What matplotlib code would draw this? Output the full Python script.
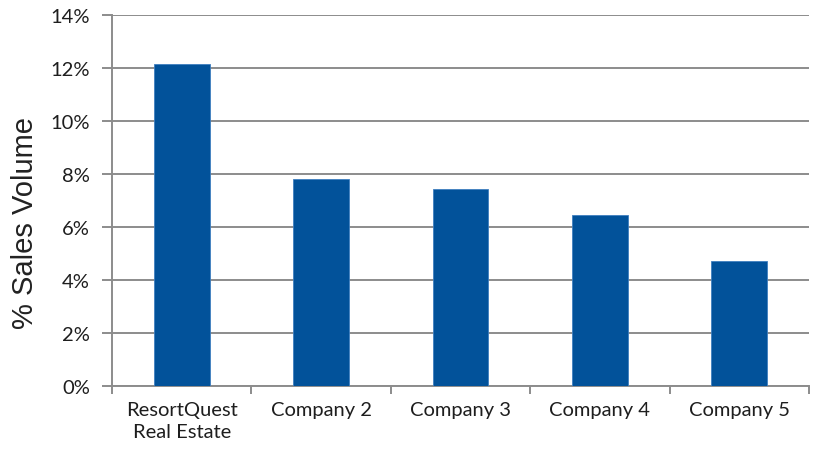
import matplotlib
matplotlib.use("Agg")
import matplotlib.pyplot as plt
from matplotlib.ticker import FixedLocator, PercentFormatter

categories = ["ResortQuest\nReal Estate", "Company 2", "Company 3", "Company 4", "Company 5"]
values = [12.15, 7.82, 7.45, 6.45, 4.72]
yticks = [0, 2, 4, 6, 8, 10, 12, 14]

fig = plt.figure(figsize=(8.13, 4.52), dpi=100)
ax = fig.add_axes([0.1378, 0.1438, 0.8573, 0.8208])

x = list(range(len(categories)))
ax.bar(x, values, width=0.40, color="#02529a", edgecolor="#3f7fc0", linewidth=0.6, zorder=3)

ax.set_xlim(-0.5, len(categories) - 0.5)
ax.set_ylim(0, 14)
ax.set_yticks(yticks)
ax.yaxis.set_major_formatter(PercentFormatter(decimals=0))
ax.yaxis.grid(True, color="#8c8c8c", linewidth=1.4, zorder=0)

ax.xaxis.set_major_locator(FixedLocator([i - 0.5 for i in range(len(categories) + 1)]))
ax.xaxis.set_major_formatter(plt.NullFormatter())
ax.xaxis.set_minor_locator(FixedLocator(x))
ax.set_xticklabels(categories, minor=True, linespacing=1.35)
ax.tick_params(axis="x", which="minor", length=0, pad=11, labelsize=14.5, labelcolor="#1e1e1e")
ax.tick_params(axis="x", which="major", length=6, width=1.4, color="#8c8c8c")
ax.tick_params(axis="y", length=7, width=1.4, color="#8c8c8c", labelsize=14.5, labelcolor="#1e1e1e", pad=9)
for lab in ax.get_xticklabels(minor=True) + ax.get_yticklabels():
    lab.set_family("Lato")

for s in ["top", "right"]:
    ax.spines[s].set_visible(False)
for s in ["left", "bottom"]:
    ax.spines[s].set_color("#8c8c8c")
    ax.spines[s].set_linewidth(1.4)

ax.set_ylabel("% Sales Volume", fontsize=21, family="Liberation Sans", color="#222222")
ax.yaxis.set_label_coords(-0.105, 0.442)

fig.savefig("out.png", dpi=100)
